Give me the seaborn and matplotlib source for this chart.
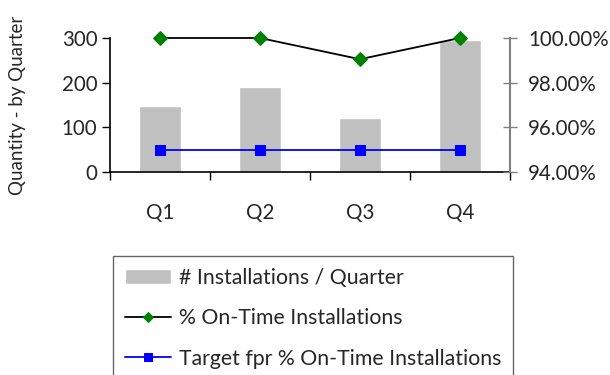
import numpy as np
import pandas as pd
import matplotlib
matplotlib.use("Agg")
import matplotlib.pyplot as plt
import seaborn as sns

# Quarterly installation figures
quarters = ["Q1", "Q2", "Q3", "Q4"]
installations = [148, 190, 121, 295]
on_time_pct = [100.0, 100.0, 99.05, 100.0]
target_pct = [95.0, 95.0, 95.0, 95.0]
left_ticks = [0, 100, 200, 300]
right_ticks = [94.0, 96.0, 98.0, 100.0]

sns.set_style("white")
plt.rcParams["font.family"] = ["Lato", "DejaVu Sans"]
FS = 14.8

df = pd.DataFrame({
    "quarter": quarters,
    "pos": np.arange(len(quarters)),
    "installations": installations,
    "on_time": on_time_pct,
    "target": target_pct,
})

fig = plt.figure(figsize=(6.10, 3.75), dpi=100)
ax = fig.add_axes([0.1803, 0.5413, 0.6557, 0.3574])

sns.barplot(data=df, x="quarter", y="installations", color="#C0C0C0",
            saturation=1, width=0.42, ax=ax, label="# Installations / Quarter")
if ax.get_legend() is not None:
    ax.get_legend().remove()
ax.set_xlim(-0.5, 3.5)
ax.set_ylim(0, 300)
ax.set_yticks(left_ticks)
ax.set_xlabel("")
ax.set_ylabel("Quantity - by Quarter", fontsize=13.5, labelpad=26)

ax2 = ax.twinx()
sns.lineplot(data=df, x="pos", y="on_time", ax=ax2, color="black", lw=1.3,
             marker="D", markersize=7, markerfacecolor="#008000",
             markeredgecolor="#008000", label="% On-Time Installations",
             legend=False, clip_on=False)
sns.lineplot(data=df, x="pos", y="target", ax=ax2, color="#0000FF", lw=1.3,
             marker="s", markersize=7.5, markerfacecolor="#0000FF",
             markeredgecolor="#0000FF",
             label="Target fpr % On-Time Installations", legend=False,
             clip_on=False)
if ax2.get_legend() is not None:
    ax2.get_legend().remove()
ax2.set_ylim(94, 100)
ax2.set_yticks(right_ticks)
ax2.set_yticklabels([f"{v:.2f}%" for v in right_ticks])
ax2.set_ylabel("")
ax2.set_xlim(-0.5, 3.5)
ax2.set_xlabel("")

# Category ticks between bars, labels centred under each bar
ax.set_xticks(np.arange(-0.5, 4.0, 1.0))
ax.set_xticklabels([])
ax.set_xticks(np.arange(4), minor=True)
ax.set_xticklabels(quarters, minor=True, fontsize=FS)
ax.tick_params(axis="x", which="major", direction="out", length=6,
               width=1, color="black", bottom=True)
ax.tick_params(axis="x", which="minor", length=0, pad=22)
ax.tick_params(axis="y", direction="out", length=6, width=1, color="black",
               left=True, labelsize=FS, pad=3)
ax2.tick_params(axis="y", direction="inout", length=10, width=1,
                color="#808080", right=True, labelsize=FS, pad=8)

for a in (ax, ax2):
    a.spines["top"].set_visible(False)
ax.spines["left"].set_color("black")
ax.spines["bottom"].set_color("black")
ax.spines["right"].set_visible(False)
ax2.spines["left"].set_visible(False)
ax2.spines["bottom"].set_visible(False)
ax2.spines["right"].set_color("#808080")
ax2.spines["right"].set_linewidth(1.5)
ax.spines["left"].set_linewidth(1.2)
ax.spines["bottom"].set_linewidth(1.2)

h1, l1 = ax.get_legend_handles_labels()
h2, l2 = ax2.get_legend_handles_labels()
leg = fig.legend(h1 + h2, l1 + l2, loc="upper left",
                 bbox_to_anchor=(113 / 610, 1 - 256 / 375),
                 fontsize=15.3, frameon=True, fancybox=False,
                 edgecolor="#404040", borderpad=0.55, labelspacing=0.97,
                 handlelength=2.2, handletextpad=0.35, borderaxespad=0,
                 markerscale=0.8)
leg.get_frame().set_linewidth(1.0)

fig.savefig("out.png", dpi=100)
